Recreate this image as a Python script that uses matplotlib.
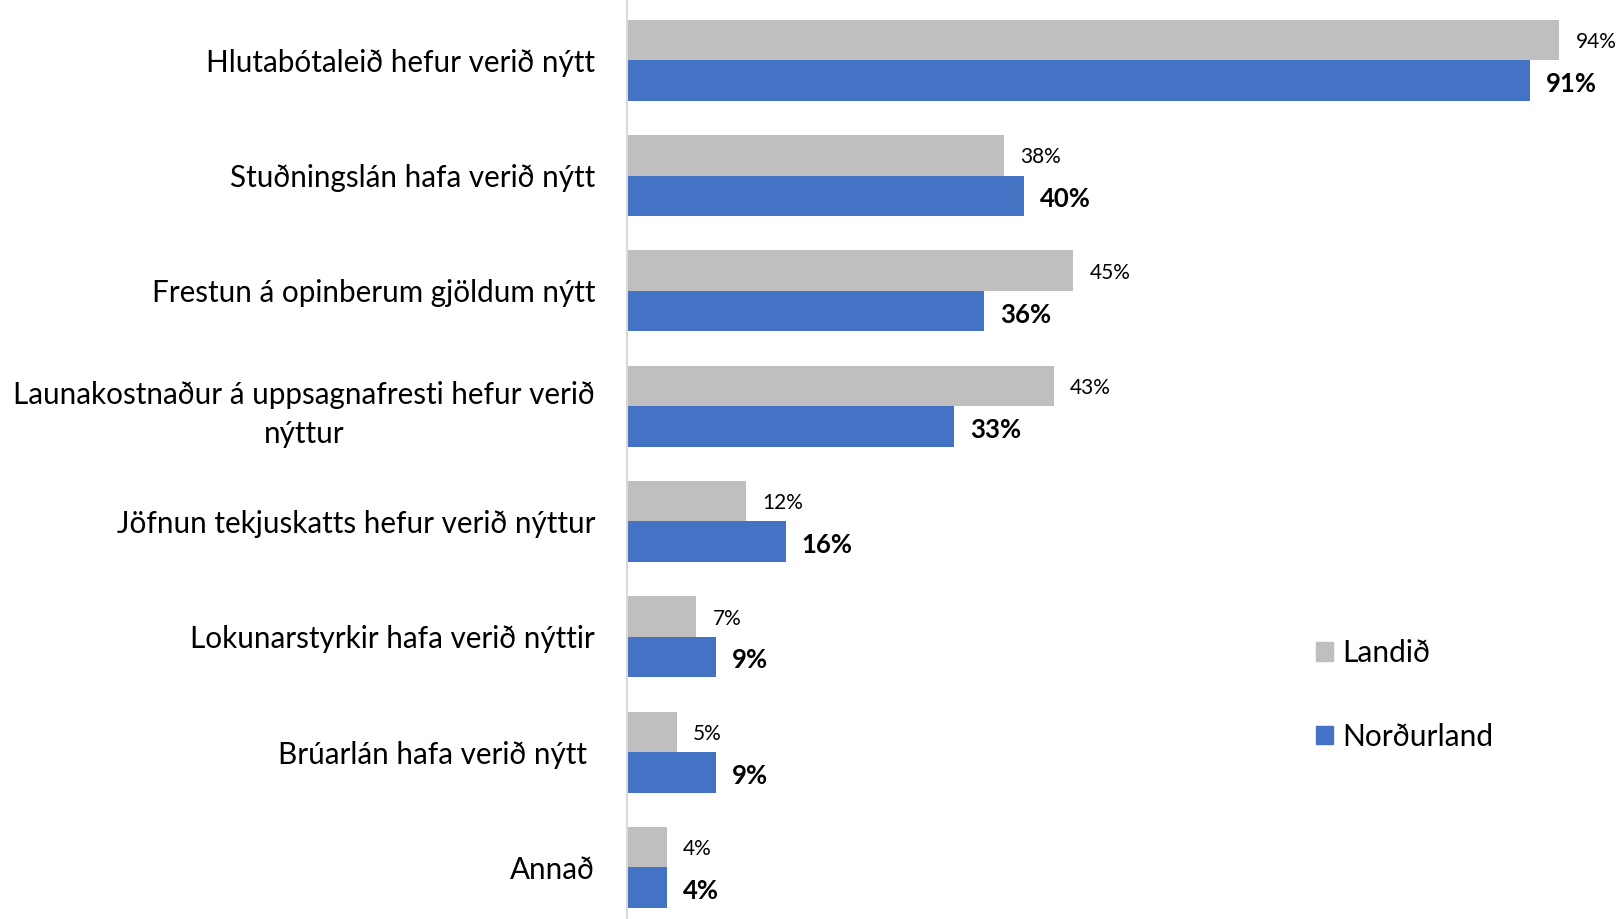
import numpy as np
import matplotlib
matplotlib.use('Agg')
import matplotlib.pyplot as plt
from matplotlib.patches import Patch

plt.rcParams['font.family'] = ['Lato', 'DejaVu Sans']

# gögn
flokkar = ['Hlutabótaleið hefur verið nýtt',
           'Stuðningslán hafa verið nýtt',
           'Frestun á opinberum gjöldum nýtt',
           'Launakostnaður á uppsagnafresti hefur verið\nnýttur',
           'Jöfnun tekjuskatts hefur verið nýttur',
           'Lokunarstyrkir hafa verið nýttir',
           'Brúarlán hafa verið nýtt ',
           'Annað']
landid = [94, 38, 45, 43, 12, 7, 5, 4]
nordurland = [91, 40, 36, 33, 16, 9, 9, 4]
raðir = ['Landið', 'Norðurland']

GRAR = '#BFBFBF'
BLAR = '#4472C4'

W, H = 1621, 919
fig = plt.figure(figsize=(W / 100, H / 100), dpi=100)
ax = fig.add_axes([627 / W, 0, 1 - 627 / W, 1])

y = np.arange(len(flokkar))
h = 0.351
ax.barh(y - h / 2, landid, height=h, color=GRAR)
ax.barh(y + h / 2, nordurland, height=h, color=BLAR)

for i in range(len(flokkar)):
    ax.annotate(f'{landid[i]}%', (landid[i], y[i] - h / 2), xytext=(11.5, -1.5),
                textcoords='offset points', va='center', ha='left', fontsize=15)
    ax.annotate(f'{nordurland[i]}%', (nordurland[i], y[i] + h / 2), xytext=(11.5, -2.5),
                textcoords='offset points', va='center', ha='left', fontsize=18.5,
                fontweight='bold')

ax.set_xlim(0, 100.2)
ax.set_ylim(7.448, -0.523)
ax.set_yticks(y)
ax.set_yticklabels(flokkar, fontsize=21.3, multialignment='center', linespacing=1.5)
ax.tick_params(axis='y', length=0, pad=23)
ax.set_xticks([])
for s in ['top', 'right', 'bottom']:
    ax.spines[s].set_visible(False)
ax.spines['left'].set_color('#D9D9D9')
ax.spines['left'].set_linewidth(1.5)

handles = [Patch(color=GRAR), Patch(color=BLAR)]
fig.legend(handles, raðir, loc='center left', bbox_to_anchor=(1316 / W, 1 - 695 / H),
           frameon=False, fontsize=21.5, handlelength=0.57, handleheight=0.57,
           handletextpad=0.3, labelspacing=1.86, borderpad=0, borderaxespad=0)

fig.savefig('out.png', dpi=100)
